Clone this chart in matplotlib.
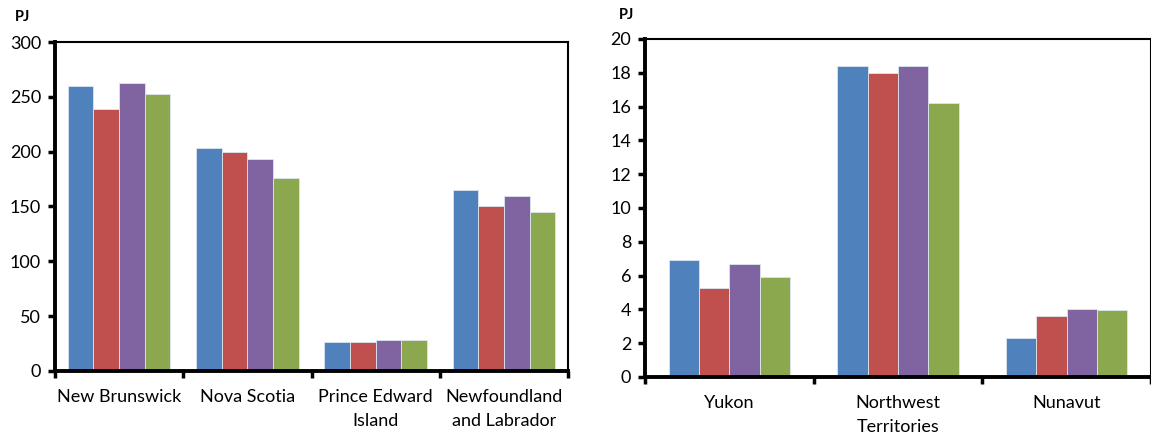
import matplotlib
matplotlib.use("Agg")
import matplotlib.pyplot as plt
import numpy as np

plt.rcParams['font.family'] = ['Lato', 'DejaVu Sans']

left_categories = ["New Brunswick", "Nova Scotia", "Prince Edward\nIsland", "Newfoundland\nand Labrador"]
left_s1 = [260, 203, 26, 165]
left_s2 = [239, 200, 26.5, 150]
left_s3 = [263, 193, 28, 160]
left_s4 = [253, 176, 28, 145]
left_yticks = [0, 50, 100, 150, 200, 250, 300]

right_categories = ["Yukon", "Northwest\nTerritories", "Nunavut"]
right_s1 = [6.9, 18.4, 2.3]
right_s2 = [5.25, 18.0, 3.6]
right_s3 = [6.7, 18.4, 4.0]
right_s4 = [5.9, 16.2, 3.95]
right_yticks = list(range(0, 21, 2))

colors = ["#4F81BD", "#C0504D", "#8064A2", "#8BA84E"]

fig = plt.figure(figsize=(11.51, 4.40), dpi=100)


def draw(ax, cats, series, yticks, bar_frac):
    n = len(cats)
    x = np.arange(n)
    k = len(series)
    w = bar_frac / k
    for i, s in enumerate(series):
        ax.bar(x - bar_frac / 2 + w * (i + 0.5), s, width=w, color=colors[i],
               edgecolor="#dde6f0", linewidth=0.6, zorder=2)
    ax.set_xlim(-0.5, n - 0.5)
    ax.set_ylim(yticks[0], yticks[-1])
    ax.set_yticks(yticks)
    ax.set_xticks(np.arange(-0.5, n, 1.0))
    ax.set_xticklabels([])
    ax.set_xticks(x, minor=True)
    ax.set_xticklabels(cats, minor=True, fontsize=13)
    ax.tick_params(axis='x', which='minor', length=0, pad=13)
    ax.tick_params(axis='x', which='major', direction='out', length=5, width=2.5)
    ax.tick_params(axis='y', direction='out', length=5, width=2.5, labelsize=13, pad=5)
    for sp in ['left', 'bottom']:
        ax.spines[sp].set_linewidth(2.8)
    for sp in ['top', 'right']:
        ax.spines[sp].set_linewidth(1.5)
    for lab in ax.get_xticklabels(minor=True):
        lab.set_linespacing(1.6)


axL = fig.add_axes([0.0478, 0.157, 0.4457, 0.7475])
draw(axL, left_categories, [left_s1, left_s2, left_s3, left_s4], left_yticks, 0.8)
fig.text(15 / 1151, 1 - 17 / 440, "PJ", fontsize=10.5, fontweight='bold', ha='left', va='center')

axR = fig.add_axes([0.5604, 0.1432, 0.4396, 0.7682])
draw(axR, right_categories, [right_s1, right_s2, right_s3, right_s4], right_yticks, 0.72)
fig.text(619 / 1151, 1 - 15 / 440, "PJ", fontsize=10.5, fontweight='bold', ha='left', va='center')

fig.savefig("out.png", dpi=100)
